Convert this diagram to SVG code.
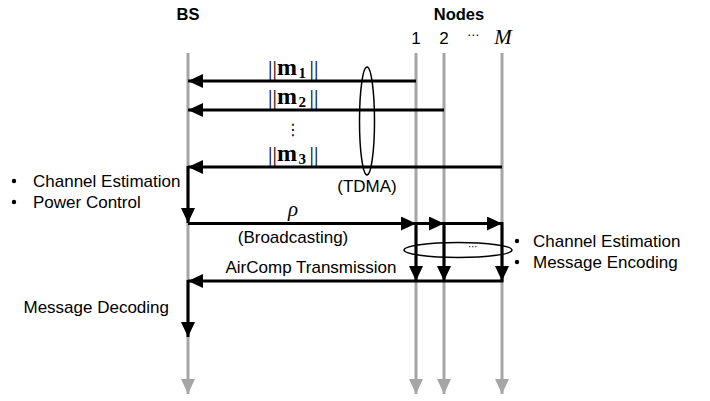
<svg xmlns="http://www.w3.org/2000/svg" width="710" height="401" viewBox="0 0 710 401">
<style>
.txt{font-family:"Liberation Sans",Arial,sans-serif;font-size:17px;fill:#000}
.hdr{font-family:"Liberation Sans",Arial,sans-serif;font-size:16.5px;font-weight:bold;fill:#000}
.math{font-family:"Liberation Serif","Times New Roman",serif;font-size:22px;fill:#000}
.mb{font-weight:bold;font-size:24px}
.sub{font-size:15px;font-weight:bold}
.it{font-family:"Liberation Serif","Times New Roman",serif;font-style:italic;font-size:21px;fill:#000}
.dots{font-family:"DejaVu Sans",sans-serif;fill:#000}
.life{stroke:#a6a6a6;stroke-width:3;fill:none}
.blk{stroke:#000;stroke-width:3;fill:none}
.ell{stroke:#000;stroke-width:1.5;fill:none}
</style>
<defs>
<marker id="ah" viewBox="0 0 15 14" refX="15" refY="7" markerWidth="15" markerHeight="14" markerUnits="userSpaceOnUse" orient="auto">
<path d="M0,0 L15,7 L0,14 Z" fill="#000"/>
</marker>
<marker id="ag" viewBox="0 0 15 14" refX="15" refY="7" markerWidth="15" markerHeight="14" markerUnits="userSpaceOnUse" orient="auto">
<path d="M0,0 L15,7 L0,14 Z" fill="#a6a6a6"/>
</marker>
</defs>
<g id="bs">
<text class="hdr" x="188" y="20" text-anchor="middle">BS</text>
<line class="life" x1="188" y1="53" x2="188" y2="394" marker-end="url(#ag)"/>
</g>
<g id="nodes">
<text class="hdr" x="459" y="20" text-anchor="middle">Nodes</text>
<text class="txt" x="416" y="44" text-anchor="middle">1</text>
<text class="txt" x="444" y="44" text-anchor="middle">2</text>
<text class="dots" x="473" y="39" text-anchor="middle" style="font-size:12px">⋯</text>
<text class="it" x="503" y="44" text-anchor="middle">M</text>
</g>
<g id="node1"><line class="life" x1="416" y1="53" x2="416" y2="394" marker-end="url(#ag)"/></g>
<g id="node2"><line class="life" x1="444" y1="53" x2="444" y2="394" marker-end="url(#ag)"/></g>
<g id="nodeM"><line class="life" x1="502" y1="53" x2="502" y2="394" marker-end="url(#ag)"/></g>
<g id="connectors">
<line class="blk" x1="416" y1="81" x2="188" y2="81" marker-end="url(#ah)"/>
<line class="blk" x1="444" y1="110" x2="188" y2="110" marker-end="url(#ah)"/>
<line class="blk" x1="502" y1="167" x2="188" y2="167" marker-end="url(#ah)"/>
<line class="blk" x1="188" y1="166" x2="188" y2="223" marker-end="url(#ah)"/>
<line class="blk" x1="188" y1="223.5" x2="416" y2="223.5" marker-end="url(#ah)"/>
<line class="blk" x1="416" y1="223.5" x2="444" y2="223.5" marker-end="url(#ah)"/>
<line class="blk" x1="444" y1="223.5" x2="502" y2="223.5" marker-end="url(#ah)"/>
<line class="blk" x1="416" y1="222" x2="416" y2="281" marker-end="url(#ah)"/>
<line class="blk" x1="444" y1="222" x2="444" y2="281" marker-end="url(#ah)"/>
<line class="blk" x1="502" y1="222" x2="502" y2="281" marker-end="url(#ah)"/>
<line class="blk" x1="503.5" y1="281" x2="188" y2="281" marker-end="url(#ah)"/>
<line class="blk" x1="188" y1="280" x2="188" y2="337" marker-end="url(#ah)"/>
</g>
<g id="labels">
<text class="math" y="75"><tspan x="268">|</tspan><tspan x="272.5">|</tspan><tspan x="277" class="mb">m</tspan><tspan x="298.5" dy="3" class="sub">1</tspan><tspan x="309.5" dy="-3">|</tspan><tspan x="314">|</tspan></text>
<text class="math" y="104"><tspan x="268">|</tspan><tspan x="272.5">|</tspan><tspan x="277" class="mb">m</tspan><tspan x="298.5" dy="3" class="sub">2</tspan><tspan x="309.5" dy="-3">|</tspan><tspan x="314">|</tspan></text>
<text class="dots" x="293" y="135" text-anchor="middle" style="font-size:16px">⋮</text>
<text class="math" y="161"><tspan x="268">|</tspan><tspan x="272.5">|</tspan><tspan x="277" class="mb">m</tspan><tspan x="298.5" dy="3" class="sub">3</tspan><tspan x="309.5" dy="-3">|</tspan><tspan x="314">|</tspan></text>
<ellipse class="ell" cx="367" cy="121" rx="7.5" ry="54"/>
<text class="txt" x="367" y="192" text-anchor="middle">(TDMA)</text>
<circle cx="14" cy="181" r="2.2"/>
<text class="txt" x="33" y="187">Channel Estimation</text>
<circle cx="14" cy="202" r="2.2"/>
<text class="txt" x="33" y="208">Power Control</text>
<text class="it" x="293" y="216" text-anchor="middle">ρ</text>
<text class="txt" x="293" y="243" text-anchor="middle">(Broadcasting)</text>
<text class="txt" x="311" y="273" text-anchor="middle">AirComp Transmission</text>
<ellipse class="ell" cx="458" cy="250" rx="54" ry="7.5"/>
<text class="dots" x="473" y="250" text-anchor="middle" style="font-size:10px">⋯</text>
<circle cx="517" cy="241" r="2.2"/>
<text class="txt" x="533" y="247">Channel Estimation</text>
<circle cx="517" cy="262" r="2.2"/>
<text class="txt" x="533" y="268">Message Encoding</text>
<text class="txt" x="169" y="313" text-anchor="end">Message Decoding</text>
</g>
</svg>
